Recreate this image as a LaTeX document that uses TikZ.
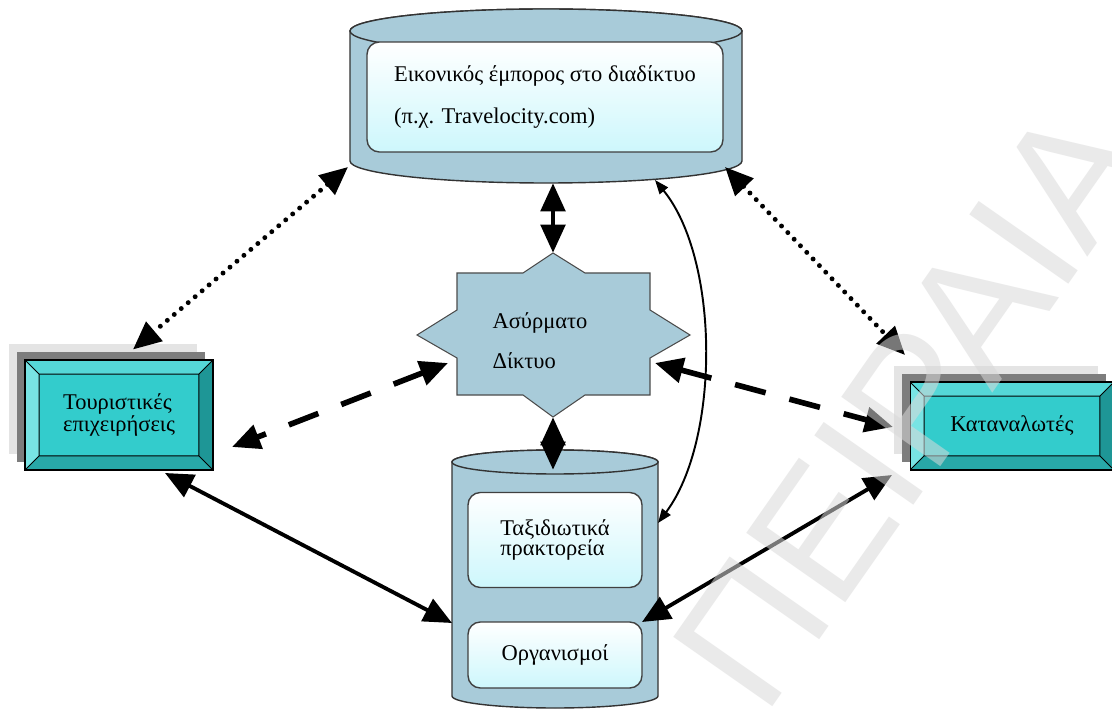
\documentclass[tikz,border=0pt]{standalone}
\usepackage{fontspec}
\setmainfont{Liberation Serif}
\newfontfamily\wmfont{Liberation Sans}
\usetikzlibrary{positioning,calc,shapes.geometric,arrows.meta,shadows}

\definecolor{steel}{RGB}{168,203,217}
\definecolor{icecyan}{RGB}{205,247,252}
\definecolor{turq}{RGB}{51,204,204}
\definecolor{bevtopc}{RGB}{85,215,215}
\definecolor{bevleftc}{RGB}{120,228,228}
\definecolor{bevrightc}{RGB}{30,150,150}
\definecolor{bevbotc}{RGB}{40,168,168}
\definecolor{shadedark}{RGB}{125,125,125}
\definecolor{shadelight}{RGB}{228,228,228}

\newlength\bevelw
\setlength\bevelw{8pt}

\tikzset{
  >={Triangle[length=16pt,width=14pt]},
  txt/.style={font=\fontsize{12.8}{11.4}\selectfont, align=left},
  cylspace/.style={rectangle, inner sep=0pt},
  cylbody/.style={draw=black!80, line width=0.8pt, fill=steel},
  inbox/.style={txt, rectangle, rounded corners=7pt, draw=black!75, line width=0.8pt,
    top color=white, bottom color=icecyan},
  bevel/.style={txt, rectangle, draw=black, line width=0.6pt, fill=turq,
    general shadow={shadow xshift=-9pt, shadow yshift=9pt, fill=shadelight},
    general shadow={shadow xshift=-4.5pt, shadow yshift=4.5pt, fill=shadedark},
    path picture={
      \path (path picture bounding box.north west) coordinate (bnw)
            (path picture bounding box.north east) coordinate (bne)
            (path picture bounding box.south west) coordinate (bsw)
            (path picture bounding box.south east) coordinate (bse);
      \path ([shift={(\bevelw,-\bevelw)}]bnw) coordinate (inw)
            ([shift={(-\bevelw,-\bevelw)}]bne) coordinate (ine)
            ([shift={(\bevelw,\bevelw)}]bsw) coordinate (isw)
            ([shift={(-\bevelw,\bevelw)}]bse) coordinate (ise);
      \fill[bevtopc] (bnw) -- (bne) -- (ine) -- (inw) -- cycle;
      \fill[bevleftc] (bnw) -- (bsw) -- (isw) -- (inw) -- cycle;
      \fill[bevrightc] (bne) -- (bse) -- (ise) -- (ine) -- cycle;
      \fill[bevbotc] (bsw) -- (bse) -- (ise) -- (isw) -- cycle;
      \draw[line width=0.5pt] (inw) rectangle (ise)
        (bnw) -- (inw) (bne) -- (ine) (bsw) -- (isw) (bse) -- (ise);
    }},
  netstar/.style={draw=black!70, line width=0.6pt, fill=steel},
  link/.style={<->, line width=2.2pt},
  dotlink/.style={<->, line width=2.8pt, line cap=round, dash pattern=on 0pt off 5.2pt},
  dashlink/.style={<->, line width=3.2pt, dash pattern=on 18pt off 14pt},
  curvelink/.style={<->, >={Triangle[length=8pt,width=6pt]}, line width=1.1pt},
  wmark/.style={font=\wmfont\fontsize{100}{100}\selectfont, text=gray!30, text opacity=0.55},
}

\begin{document}
\begin{tikzpicture}[x=0.02cm, y=-0.02cm]
\useasboundingbox (0,0) rectangle (1112,709);
\fill[white] (0,0) rectangle (1112,709);

% cylinders and their boxes
\node[cylspace, minimum width=7.84cm, minimum height=3.48cm] (vendor) at (546,96) {};
\draw[cylbody, shift={(vendor.center)}] (-196,-65) -- (-196,65)
  arc[start angle=180, end angle=0, x radius=196, y radius=22] -- (196,-65)
  arc[start angle=0, end angle=-180, x radius=196, y radius=22] -- cycle;
\draw[cylbody, shift={(vendor.center)}] (0,-65) ellipse[x radius=196, y radius=22];
\node[inbox, minimum width=7.12cm, minimum height=2.2cm] (vendorbox) at (545,97)
  {Εικονικός έμπορος στο διαδίκτυο\\[11.4pt](π.χ. Travelocity.com)};

\node[cylspace, minimum width=4.12cm, minimum height=5.16cm] (hub) at (555,579) {};
\draw[cylbody, shift={(hub.center)}] (-103,-117) -- (-103,117)
  arc[start angle=180, end angle=0, x radius=103, y radius=12] -- (103,-117)
  arc[start angle=0, end angle=-180, x radius=103, y radius=12] -- cycle;
\draw[cylbody, shift={(hub.center)}] (0,-117) ellipse[x radius=103, y radius=12];
\node[inbox, minimum width=3.48cm, minimum height=1.9cm] (agencies) at (555,540)
  {Ταξιδιωτικά\\πρακτορεία};
\node[inbox, minimum width=3.48cm, minimum height=1.32cm] (orgs) at (555,655)
  {Οργανισμοί};

% side boxes
\node[bevel, minimum width=3.76cm, minimum height=2.2cm] (firms) at (119,415)
  {Τουριστικές\\επιχειρήσεις};
\node[bevel, minimum width=4.08cm, minimum height=1.76cm] (consumers) at (1012,426)
  {Καταναλωτές};

% wireless network star
\node[minimum width=5.46cm, minimum height=3.28cm, inner sep=0pt] (net) at (553,335) {};
\draw[netstar, shift={(net.center)}] (0,-82) -- (32,-62) -- (97,-62) -- (97,-25)
  -- (137,0) -- (97,23) -- (97,60) -- (32,60) -- (0,82) -- (-30,60) -- (-96,60)
  -- (-96,23) -- (-136,0) -- (-96,-25) -- (-96,-62) -- (-30,-62) -- cycle;
\node[txt] (nettext) at (540,341) {Ασύρματο\\[10.2pt]Δίκτυο};
\coordinate (netW) at ($(net.center)+(-105,28)$);
\coordinate (netE) at ($(net.center)+(102,28)$);

% connectors
\draw[link] (net.north) -- (net.north |- vendor.south);
\draw[link] (net.south) -- ($(net.south |- hub.north)+(0,20)$);
\draw[dotlink] ($(vendor.center)+(-198,71)$) -- ($(firms.north)+(14,-10)$);
\draw[dotlink] ($(vendor.center)+(179,71)$) -- ($(consumers.center)+(-107,-71)$);
\draw[dashlink] (netW) -- ($(firms.center)+(113,32)$);
\draw[dashlink] (netE) -- ($(consumers.center)+(-119,1)$);
\draw[link] ($(firms.center)+(46,58)$) -- ($(hub.center)+(-103,44)$);
\draw[link] ($(consumers.center)+(-120,49)$) -- ($(hub.center)+(87,43)$);
\draw[curvelink] ($(vendor.center)+(109,84)$) .. controls +(65,80) and +(62,-83)
  .. ($(hub.center)+(103,-56)$);

% watermark
\node[wmark, rotate=55] (wm) at (910,405) {ΠΕΙΡΑΙΑ};
\end{tikzpicture}
\end{document}
